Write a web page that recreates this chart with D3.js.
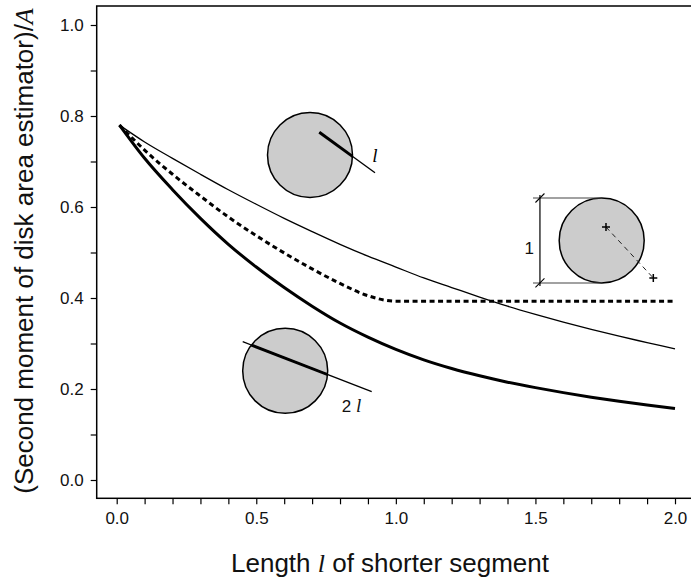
<!DOCTYPE html>
<html><head><meta charset="utf-8">
<script src="https://cdn.jsdelivr.net/npm/d3@7"></script>
<style>body{margin:0;background:#fff}svg{display:block}</style>
</head><body>
<script>
// ---- data ----
const lengths = [0.01,0.1,0.2,0.3,0.4,0.5,0.6,0.7,0.8,0.9,1.0,1.1,1.2,1.3,1.4,1.5,1.6,1.7,1.8,1.9,2.0];
const singleSegment = [0.780,0.743,0.707,0.672,0.638,0.606,0.575,0.546,0.518,0.492,0.468,0.444,0.423,0.402,0.382,0.364,0.347,0.331,0.316,0.302,0.288];
const doubleSegment = [0.780,0.707,0.638,0.575,0.518,0.468,0.423,0.382,0.345,0.314,0.287,0.264,0.245,0.229,0.215,0.203,0.192,0.182,0.173,0.165,0.157];
const pointPair     = [0.780,0.725,0.672,0.624,0.578,0.537,0.499,0.464,0.432,0.405,0.393,0.393,0.393,0.393,0.393,0.393,0.393,0.393,0.393,0.393,0.393];
const xTickValues = [0,0.1,0.2,0.3,0.4,0.5,0.6,0.7,0.8,0.9,1.0,1.1,1.2,1.3,1.4,1.5,1.6,1.7,1.8,1.9,2.0];
const xTickLabels = ["0.0","","","","","0.5","","","","","1.0","","","","","1.5","","","","","2.0"];
const yTickValues = [0,0.1,0.2,0.3,0.4,0.5,0.6,0.7,0.8,0.9,1.0];
const yTickLabels = ["0.0","","0.2","","0.4","","0.6","","0.8","","1.0"];

const W = 691, H = 579;
const svg = d3.select("body").append("svg").attr("width", W).attr("height", H);
const x = d3.scaleLinear().domain([0, 2]).range([116.7, 675]);
const y = d3.scaleLinear().domain([0, 1]).range([480, 25]);
const SANS = "'Liberation Sans', Arial, Helvetica, sans-serif";
const SERIF = "'Liberation Serif', 'Times New Roman', serif";

// frame (right side cut off by the image)
svg.append("rect").attr("x", 96.7).attr("y", 6).attr("width", 700).attr("height", 492.3)
  .attr("fill", "none").attr("stroke", "#000").attr("stroke-width", 1.5);

// axes
const gx = svg.append("g").attr("transform", "translate(0,498.3)")
  .call(d3.axisBottom(x).tickValues(xTickValues).tickSize(6).tickPadding(8)
        .tickFormat((d, i) => xTickLabels[i]));
const gy = svg.append("g").attr("transform", "translate(96.7,0)")
  .call(d3.axisLeft(y).tickValues(yTickValues).tickSize(6).tickPadding(7)
        .tickFormat((d, i) => yTickLabels[i]));
[gx, gy].forEach(g => {
  g.select(".domain").remove();
  g.selectAll("line").attr("stroke", "#000").attr("stroke-width", 1.2);
  g.selectAll("text").attr("font-family", SANS).attr("font-size", 17).attr("fill", "#111");
});

// axis titles
const xt = svg.append("text").attr("x", 390).attr("y", 572).attr("text-anchor", "middle")
  .attr("font-family", SANS).attr("font-size", 26).attr("fill", "#111");
xt.append("tspan").text("Length ");
xt.append("tspan").attr("font-family", SERIF).attr("font-style", "italic").text("l");
xt.append("tspan").text(" of shorter segment");

const yt = svg.append("text").attr("transform", "translate(33,251) rotate(-90)").attr("text-anchor", "middle")
  .attr("font-family", SANS).attr("font-size", 26).attr("fill", "#111");
yt.append("tspan").text("(Second moment of disk area estimator)/");
yt.append("tspan").attr("font-family", SERIF).attr("font-style", "italic").text("A");

// curves
const line = d3.line().x(d => x(d[0])).y(d => y(d[1])).curve(d3.curveMonotoneX);
const series = [
  {vals: singleSegment, w: 1.3, dash: null},
  {vals: pointPair, w: 3, dash: "5,3.5"},
  {vals: doubleSegment, w: 3, dash: null}
];
series.forEach(s => {
  svg.append("path").datum(lengths.map((l, i) => [l, s.vals[i]]))
    .attr("d", line).attr("fill", "none").attr("stroke", "#000")
    .attr("stroke-width", s.w).attr("stroke-dasharray", s.dash);
});

// ---- illustrations (positions in data units) ----
const R = 42.5;
const grey = "#cccccc";
const defs = svg.append("defs");

function disk(id, c) {
  defs.append("clipPath").attr("id", id).append("circle")
    .attr("cx", x(c[0])).attr("cy", y(c[1])).attr("r", R);
  svg.append("circle").attr("cx", x(c[0])).attr("cy", y(c[1])).attr("r", R)
    .attr("fill", grey).attr("stroke", "#000").attr("stroke-width", 1.5);
}
function seg(a, b, w, clip, dash, col) {
  const l = svg.append("line").attr("x1", x(a[0])).attr("y1", y(a[1]))
    .attr("x2", x(b[0])).attr("y2", y(b[1])).attr("stroke", col || "#000").attr("stroke-width", w);
  if (clip) l.attr("clip-path", "url(#" + clip + ")");
  if (dash) l.attr("stroke-dasharray", dash);
}

// upper disk: segment of length l from an interior point
disk("c1", [0.6925, 0.7143]);
seg([0.7258, 0.7642], [0.9253, 0.6754], 1.3);
seg([0.7258, 0.7642], [0.9253, 0.6754], 3, "c1");
svg.append("text").attr("x", x(0.9253)).attr("y", y(0.6996)).attr("text-anchor", "middle")
  .attr("font-family", SERIF).attr("font-style", "italic").attr("font-size", 19).text("l");

// lower disk: line of length 2l through disk
disk("c2", [0.6036, 0.2400]);
seg([0.4514, 0.3040], [0.9135, 0.1941], 1.3);
seg([0.4514, 0.3040], [0.9135, 0.1941], 3, "c2");
const t2 = svg.append("text").attr("x", x(0.806)).attr("y", y(0.1501))
  .attr("font-family", SANS).attr("font-size", 17).attr("fill", "#111");
t2.append("tspan").text("2");
t2.append("tspan").attr("font-family", SERIF).attr("font-style", "italic").attr("font-size", 19).text(" l");

// right disk: unit diameter and a pair of points
disk("c3", [1.7374, 0.5264]);
const bx = 1.5162, bx0 = 1.4913, cxr = 1.7374;
const yTop = 0.6198, yBot = 0.4330;
seg([bx0, yTop], [cxr, yTop], 1.2, null, null, "#444");
seg([bx0, yBot], [cxr, yBot], 1.2, null, null, "#444");
seg([bx, 0.6264], [bx, 0.4264], 1.2);
[yTop, yBot].forEach(v => {
  svg.append("line").attr("x1", x(bx) - 4.5).attr("y1", y(v) + 4.5)
    .attr("x2", x(bx) + 4.5).attr("y2", y(v) - 4.5).attr("stroke", "#000").attr("stroke-width", 1.1);
});
svg.append("text").attr("x", x(1.478)).attr("y", y(0.4967)).attr("text-anchor", "middle")
  .attr("font-family", SANS).attr("font-size", 17).attr("fill", "#111").text("1");
const p1 = [1.7528, 0.556], p2 = [1.9223, 0.444];
seg(p1, p2, 1, null, "5,4", "#222");
[p1, p2].forEach(p => {
  svg.append("path").attr("d", `M${x(p[0]) - 4},${y(p[1])}h8M${x(p[0])},${y(p[1]) - 4}v8`)
    .attr("stroke", "#000").attr("stroke-width", 1.5);
});
</script>
</body></html>
